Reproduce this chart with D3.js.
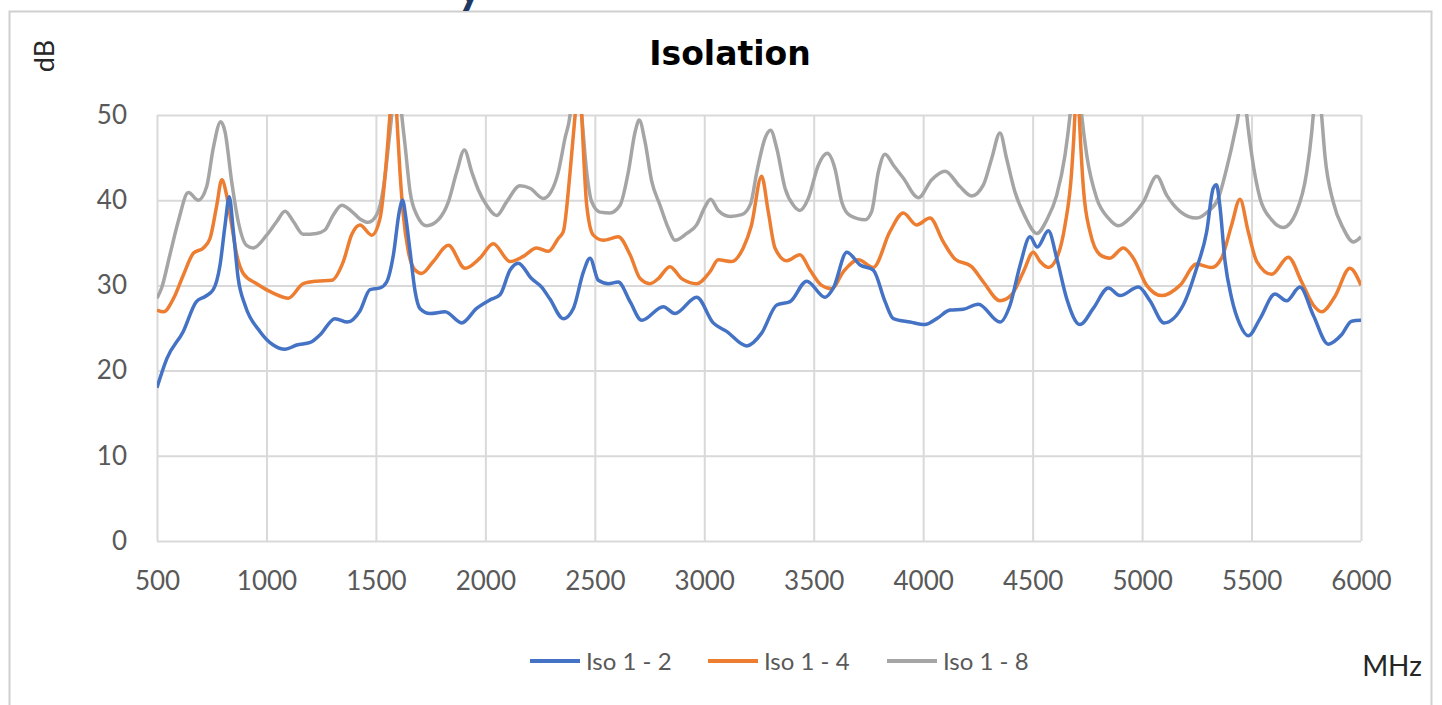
<!DOCTYPE html>
<html>
<head>
<meta charset="utf-8">
<script src="https://cdn.jsdelivr.net/npm/d3@7"></script>
<style>
  body { margin: 0; background: #fff; }
  .tick text { font-family: Lato, "Open Sans", sans-serif; fill: #595959; }
  .grid line { stroke: #d9d9d9; stroke-width: 2; }
  .grid .domain { display: none; }
</style>
</head>
<body>
<script>
// Iso 1-2
const freq12 = [500,545,620,680,720,757,788,811,830,849,871,902,970,1031,1085,1138,1200,1245,1313,1370,1427,1473,1519,1549,1580,1607,1622,1637,1656,1679,1701,1747,1816,1892,1960,2021,2067,2113,2150,2211,2257,2295,2356,2402,2448,2478,2516,2562,2607,2661,2714,2813,2866,2965,3041,3102,3194,3262,3331,3392,3468,3552,3590,3651,3712,3772,3826,3864,3940,4008,4062,4123,4183,4252,4351,4397,4443,4488,4521,4572,4610,4655,4716,4777,4846,4899,4983,5036,5100,5188,5249,5295,5325,5340,5355,5379,5409,5447,5485,5539,5607,5660,5721,5782,5851,5911,5957,6000];
const iso12 = [18.0,21.4,24.6,28.1,28.7,29.5,32.4,37.1,40.4,36.3,30.8,27.7,24.6,23.0,22.5,23.0,23.3,24.2,26.1,25.7,27.0,29.5,29.7,30.4,33.6,38.7,40.0,37.9,34.0,29.3,27.3,26.7,26.9,25.6,27.3,28.3,28.9,31.8,32.6,30.8,29.8,28.4,26.1,27.3,31.6,33.2,30.6,30.2,30.4,28.1,25.9,27.5,26.7,28.6,25.6,24.6,22.9,24.4,27.7,28.1,30.5,28.6,29.7,33.9,32.4,31.8,28.1,26.1,25.7,25.4,26.1,27.1,27.2,27.8,25.7,27.7,32.4,35.7,34.5,36.4,33.2,28.5,25.4,27.3,29.7,28.8,29.8,28.2,25.6,27.7,32.0,36.3,41.4,41.8,39.4,32.8,28.5,25.4,24.1,26.1,29.0,28.2,29.8,26.5,23.1,24.2,25.8,25.9];

// Iso 1-4
const freq14 = [500,530,576,620,667,712,742,773,796,818,841,864,894,955,1031,1100,1168,1229,1298,1351,1390,1427,1481,1519,1564,1580,1595,1610,1625,1648,1679,1709,1762,1831,1907,1975,2036,2113,2173,2234,2288,2333,2356,2387,2410,2428,2440,2463,2493,2539,2607,2661,2707,2752,2790,2843,2897,2965,3026,3064,3125,3178,3215,3262,3292,3323,3376,3437,3483,3536,3582,3635,3704,3772,3848,3909,3970,4031,4092,4145,4221,4275,4351,4404,4458,4503,4534,4572,4610,4648,4678,4693,4702,4713,4732,4762,4808,4853,4914,4960,5021,5090,5173,5249,5317,5363,5409,5447,5485,5524,5592,5668,5729,5782,5820,5881,5949,6000];
const iso14 = [27.1,26.9,28.5,31.2,33.8,34.4,35.5,39.4,42.4,40.6,37.1,33.6,31.4,30.2,29.1,28.5,30.2,30.5,30.6,32.8,36.0,37.1,35.9,37.9,50,56,50,43.3,38.3,34.0,31.8,31.4,32.8,34.7,32.0,33.2,34.9,32.8,33.4,34.4,34.0,35.5,36.3,43.3,50,56,50,39.4,35.9,35.3,35.7,33.6,30.8,30.2,30.8,32.2,30.8,30.2,31.6,33.0,32.8,34.4,37.0,42.8,38.7,34.4,32.9,33.6,31.8,30.0,29.6,31.6,33.0,32.1,36.3,38.5,37.1,37.9,35.1,33.1,32.2,30.4,28.2,28.9,31.6,33.9,32.8,32.1,33.2,37.1,43.3,50,57,50,41.4,36.3,33.6,33.2,34.4,33.2,30.0,28.8,30.0,32.5,32.1,33.2,37.1,40.1,36.3,32.8,31.3,33.3,30.4,27.7,26.9,28.7,32.0,30.0];

// Iso 1-8
const freq18 = [500,521,559,597,643,689,727,757,791,811,841,871,909,940,1001,1047,1085,1123,1168,1229,1267,1306,1344,1389,1427,1465,1504,1534,1561,1572,1592,1618,1633,1656,1686,1732,1785,1831,1869,1904,1938,1968,2006,2052,2097,2158,2204,2265,2300,2333,2364,2387,2413,2440,2463,2486,2524,2569,2615,2653,2684,2703,2729,2760,2798,2836,2866,2920,2965,3003,3029,3064,3118,3171,3212,3240,3278,3303,3331,3369,3407,3437,3475,3521,3562,3597,3628,3666,3734,3765,3795,3826,3864,3909,3978,4039,4100,4168,4221,4275,4313,4351,4381,4419,4465,4519,4565,4610,4648,4671,4698,4724,4747,4793,4846,4891,4952,5006,5067,5112,5173,5249,5302,5348,5386,5424,5439,5458,5478,5501,5539,5592,5645,5706,5752,5775,5782,5800,5820,5835,5873,5919,5965,6000];
const iso18 = [28.5,29.7,33.6,37.5,40.9,40.0,41.6,46.1,49.2,48.0,42.2,37.5,34.7,34.4,35.9,37.5,38.7,37.5,36.0,36.1,36.5,38.3,39.4,38.7,37.8,37.4,38.3,41.4,47.3,50,58,50,46.5,41.0,38.3,37.0,37.7,39.8,43.3,45.9,43.3,41.2,39.4,38.2,39.8,41.7,41.4,40.2,41.0,43.3,47.3,50,58,50,43.3,39.8,38.6,38.5,39.4,43.3,48.0,49.4,46.9,42.2,39.4,36.7,35.3,36.1,37.1,39.2,40.1,38.8,38.1,38.3,39.6,43.3,47.3,48.2,46.1,41.4,39.4,38.8,40.2,44.1,45.5,43.7,39.8,38.2,37.7,38.7,43.3,45.4,44.1,42.6,40.3,42.4,43.4,41.6,40.5,41.8,44.9,47.9,44.9,41.0,38.1,36.1,37.7,40.6,45.3,50,58,50,45.3,40.2,37.9,37.0,38.1,39.8,42.8,40.6,38.7,37.9,38.7,40.2,43.7,48.0,50,56,50,45.3,40.2,37.7,36.8,38.7,43.3,48.0,50,56,50,45.3,39.8,36.7,35.1,35.7];

const seriesNames = ["Iso 1 - 2", "Iso 1 - 4", "Iso 1 - 8"];
const seriesColors = ["#4472C4", "#ED7D31", "#A5A5A5"];
const xTicks = [500,1000,1500,2000,2500,3000,3500,4000,4500,5000,5500,6000];
const yTicks = [0,10,20,30,40,50];

const W = 1442, H = 705;
const plotL = 157, plotR = 1361, plotT = 115, plotB = 541;

const svg = d3.select("body").append("svg")
  .attr("width", W)
  .attr("height", H);

// chart frame
svg.append("rect")
  .attr("x", 9.5).attr("y", 11.5)
  .attr("width", 1422).attr("height", 720)
  .attr("fill", "none")
  .attr("stroke", "#d0d0d0")
  .attr("stroke-width", 2);

// heading above the chart, only its descender shows
svg.append("text")
  .attr("x", 458).attr("y", 4)
  .attr("font-family", "Lato, sans-serif")
  .attr("font-weight", 900)
  .attr("font-size", 44)
  .attr("fill", "#203864")
  .text("y");

const x = d3.scaleLinear().domain([500, 6000]).range([plotL, plotR]);
const y = d3.scaleLinear().domain([0, 50]).range([plotB, plotT]);

// grid
svg.append("g")
  .attr("class", "grid")
  .attr("transform", `translate(0,${plotB})`)
  .call(d3.axisBottom(x).tickValues(xTicks).tickSize(-(plotB - plotT)).tickFormat(""));

svg.append("g")
  .attr("class", "grid")
  .attr("transform", `translate(${plotL},0)`)
  .call(d3.axisLeft(y).tickValues(yTicks).tickSize(-(plotR - plotL)).tickFormat(""));

// axis labels
const xAxis = svg.append("g")
  .attr("transform", `translate(0,${plotB})`)
  .call(d3.axisBottom(x).tickValues(xTicks).tickSize(0).tickPadding(31).tickFormat(d3.format("d")));
xAxis.select(".domain").remove();
xAxis.selectAll("text").attr("font-size", 26);

const yAxis = svg.append("g")
  .attr("transform", `translate(${plotL},0)`)
  .call(d3.axisLeft(y).tickValues(yTicks).tickSize(0).tickPadding(30));
yAxis.select(".domain").remove();
yAxis.selectAll("text").attr("font-size", 26);

// clip lines to plot area
svg.append("clipPath").attr("id", "plot")
  .append("rect")
  .attr("x", plotL).attr("y", plotT - 1)
  .attr("width", plotR - plotL).attr("height", plotB - plotT + 2);

const line = d3.line()
  .x(d => x(d[0]))
  .y(d => y(d[1]))
  .curve(d3.curveMonotoneX);

const freqs = [freq12, freq14, freq18];
const vals = [iso12, iso14, iso18];

const lines = svg.append("g").attr("clip-path", "url(#plot)");
[2, 1, 0].forEach(i => {
  lines.append("path")
    .datum(d3.zip(freqs[i], vals[i]))
    .attr("fill", "none")
    .attr("stroke", seriesColors[i])
    .attr("stroke-width", 3.5)
    .attr("stroke-linejoin", "round")
    .attr("d", line);
});

// title
svg.append("text")
  .attr("x", 730).attr("y", 65)
  .attr("text-anchor", "middle")
  .attr("font-family", "'DejaVu Sans', sans-serif")
  .attr("font-weight", "bold")
  .attr("font-size", 33)
  .attr("fill", "#000")
  .text("Isolation");

// unit labels
svg.append("text")
  .attr("transform", "translate(54,56) rotate(-90)")
  .attr("text-anchor", "middle")
  .attr("font-family", "Lato, sans-serif")
  .attr("font-size", 27)
  .attr("fill", "#262626")
  .text("dB");

svg.append("text")
  .attr("x", 1392).attr("y", 676)
  .attr("text-anchor", "middle")
  .attr("font-family", "Lato, sans-serif")
  .attr("font-size", 28)
  .attr("fill", "#262626")
  .text("MHz");

// legend
const legendX = [530, 708, 887];
const legend = svg.append("g");
seriesNames.forEach((name, i) => {
  legend.append("line")
    .attr("x1", legendX[i]).attr("x2", legendX[i] + 50)
    .attr("y1", 661).attr("y2", 661)
    .attr("stroke", seriesColors[i])
    .attr("stroke-width", 4);
  legend.append("text")
    .attr("x", legendX[i] + 56).attr("y", 670)
    .attr("font-family", "Lato, sans-serif")
    .attr("font-size", 24)
    .attr("fill", "#595959")
    .text(name);
});
</script>
</body>
</html>
